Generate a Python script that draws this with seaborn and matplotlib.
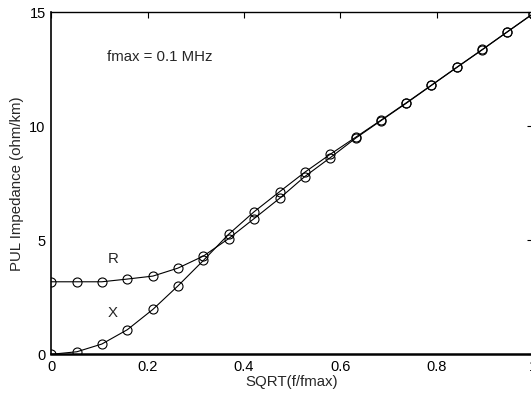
import numpy as np
import pandas as pd
import matplotlib
matplotlib.use("Agg")
import matplotlib.pyplot as plt
import seaborn as sns

# sqrt(f/fmax) sample points
sqrt_f = [0.0, 0.053, 0.105, 0.158, 0.211, 0.263, 0.316, 0.368, 0.421, 0.474,
          0.526, 0.579, 0.632, 0.684, 0.737, 0.789, 0.842, 0.895, 0.947, 1.0]
# resistance per unit length (ohm/km)
r_vals = [3.18, 3.18, 3.18, 3.30, 3.43, 3.78, 4.31, 5.07, 5.95, 6.84,
          7.79, 8.62, 9.48, 10.24, 11.01, 11.79, 12.58, 13.36, 14.14, 14.93]
# reactance per unit length (ohm/km)
x_vals = [0.0, 0.11, 0.45, 1.08, 1.97, 3.00, 4.12, 5.26, 6.25, 7.13,
          7.98, 8.77, 9.52, 10.26, 11.03, 11.80, 12.59, 13.37, 14.15, 14.94]

df = pd.DataFrame({"x": sqrt_f * 2,
                   "val": r_vals + x_vals,
                   "kind": ["R"] * len(sqrt_f) + ["X"] * len(sqrt_f)})

sns.set_style("white")
plt.rcParams["font.family"] = ["Liberation Sans", "DejaVu Sans"]

fig = plt.figure(figsize=(5.31, 3.97), dpi=100)
ax = fig.add_axes([0.0966, 0.1076, 0.907, 0.8614])

for k in ["R", "X"]:
    sub = df[df["kind"] == k]
    sns.lineplot(data=sub, x="x", y="val", ax=ax, color="black", lw=0.8,
                 marker="o", markersize=6.5, markerfacecolor="none",
                 markeredgecolor="black", markeredgewidth=0.8)

ax.set_xlim(0, 1)
ax.set_ylim(0, 15)
ax.set_xticks([0, 0.2, 0.4, 0.6, 0.8, 1])
ax.set_xticklabels(["0", "0.2", "0.4", "0.6", "0.8", "1"])
ax.set_yticks([0, 5, 10, 15])
ax.tick_params(direction="in", length=4, width=0.8, top=True, right=True,
               labelsize=10.5, colors="black", pad=4)
for s in ax.spines.values():
    s.set_color("black")
    s.set_linewidth(1.0)
ax.spines["bottom"].set_linewidth(1.8)
ax.spines["left"].set_linewidth(1.2)

ax.set_xlabel("SQRT(f/fmax)", fontsize=10.8, labelpad=1)
ax.set_ylabel("PUL Impedance (ohm/km)", fontsize=10.8, labelpad=4)

ax.text(0.115, 13.05, "fmax = 0.1 MHz", fontsize=10.8, va="center")
ax.text(0.118, 4.2, "R", fontsize=10.8, va="center")
ax.text(0.118, 1.8, "X", fontsize=10.8, va="center")

fig.savefig("out.png", dpi=100)
